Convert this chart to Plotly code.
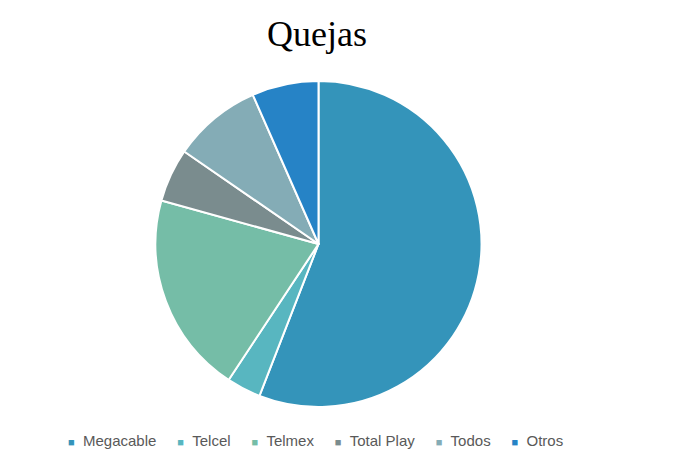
import plotly.graph_objects as go

labels = ["Megacable", "Telcel", "Telmex", "Total Play", "Todos", "Otros"]
values = [55.9, 3.4, 20.0, 5.3, 8.8, 6.6]
colors = ["#3494BA", "#58B6C0", "#75BDA7", "#7A8C8E", "#84ACB6", "#2683C6"]

fig = go.Figure(go.Pie(
    labels=labels, values=values, sort=False, direction="clockwise", rotation=0,
    marker=dict(colors=colors, line=dict(color="white", width=2)),
    textinfo="none", hoverinfo="label+percent",
    domain=dict(x=[147.5/700, 473.5/700], y=[1-399/466, 1-73/466]),
))

# legend row built from the labels/colours lists
gap = "&nbsp;" * 5
legend_text = gap.join(
    f"<span style='color:{c};font-size:11px'>■</span>&nbsp;&nbsp;{l}" for l, c in zip(labels, colors)
)
fig.add_annotation(
    text=legend_text, xref="paper", yref="paper", x=307/700, y=1-432/466,
    xanchor="center", yanchor="middle", showarrow=False,
    font=dict(family="Liberation Sans, Arial, sans-serif", size=15, color="#595959"),
)

fig.update_layout(
    width=700, height=466,
    margin=dict(l=0, r=0, t=0, b=0),
    paper_bgcolor="white", plot_bgcolor="white",
    title=dict(text="Quejas", x=309/700, xanchor="center", y=1-25/466, yanchor="middle",
               font=dict(family="Liberation Serif, Times New Roman, serif", size=36, color="black")),
    showlegend=False,
)
fig.write_html("out.html")
